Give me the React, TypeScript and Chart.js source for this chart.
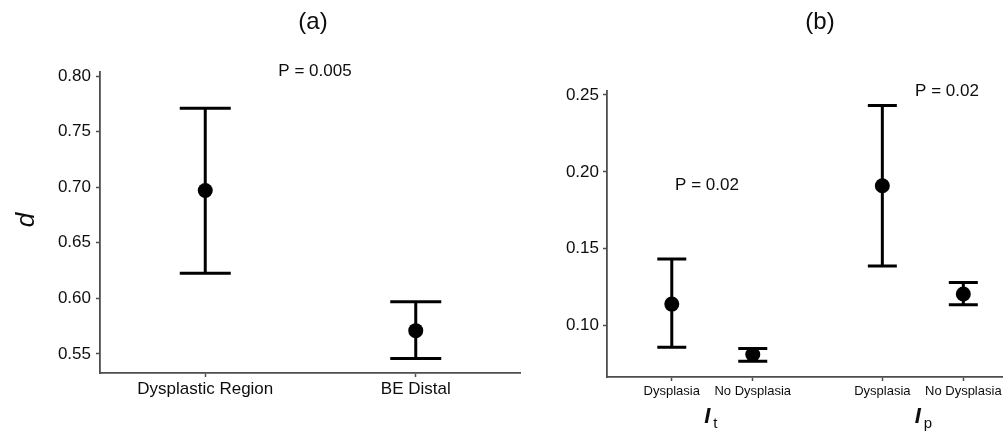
import React, { useEffect, useRef } from "react";
import { Chart, registerables } from "chart.js";

Chart.register(...registerables);

// ---------- Data: panel (a) ----------
const categoriesA = ["Dysplastic Region", "BE Distal"];
const meanA = [0.697, 0.571];
const upperA = [0.771, 0.597];
const lowerA = [0.6225, 0.546];
const yTicksA = [0.55, 0.6, 0.65, 0.7, 0.75, 0.8];
const pTextA = "P = 0.005";

// ---------- Data: panel (b) ----------
const groupSubsB = ["t", "p"]; // I_t and I_p
const conditionsB = ["Dysplasia", "No Dysplasia", "Dysplasia", "No Dysplasia"];
const meanB = [0.114, 0.0812, 0.191, 0.1206];
const upperB = [0.1433, 0.0851, 0.2431, 0.1281];
const lowerB = [0.0859, 0.0768, 0.1388, 0.1136];
const yTicksB = [0.1, 0.15, 0.2, 0.25];
const pTextsB = ["P = 0.02", "P = 0.02"];

// ---------- Styling ----------
const FONT = "Arial, 'Liberation Sans', sans-serif";
const TEXT = "#0d0d0d";
const AXIS = "#4d4d4d";
const GROUP_STEP = 2.6; // dodge layout: group spacing in x units
const posB = conditionsB.map((_, i) => Math.floor(i / 2) * GROUP_STEP + (i % 2) + 1);

const errorBarPlugin = {
  id: "errorBars",
  beforeDatasetsDraw(chart: any, _args: any, opts: any) {
    const { ctx } = chart;
    const y = chart.scales.y;
    const meta = chart.getDatasetMeta(0);
    ctx.save();
    ctx.strokeStyle = "#000";
    ctx.lineWidth = opts.lineWidth || 3;
    ctx.lineCap = "butt";
    meta.data.forEach((el: any, i: number) => {
      const px = el.x;
      const yl = y.getPixelForValue(opts.lower[i]);
      const yh = y.getPixelForValue(opts.upper[i]);
      const hw = opts.capHalf;
      ctx.beginPath();
      ctx.moveTo(px, yl);
      ctx.lineTo(px, yh);
      ctx.moveTo(px - hw, yl);
      ctx.lineTo(px + hw, yl);
      ctx.moveTo(px - hw, yh);
      ctx.lineTo(px + hw, yh);
      ctx.stroke();
    });
    ctx.restore();
  },
};

const textPlugin = {
  id: "annotText",
  afterDraw(chart: any, _args: any, opts: any) {
    const { ctx } = chart;
    ctx.save();
    ctx.fillStyle = TEXT;
    (opts.items || []).forEach((it: any) => {
      const pos = typeof it.pos === "function" ? it.pos(chart) : it.pos;
      ctx.save();
      ctx.font = it.font;
      ctx.textAlign = it.align || "center";
      ctx.textBaseline = it.baseline || "middle";
      ctx.translate(pos[0], pos[1]);
      if (it.rotate) ctx.rotate(it.rotate);
      ctx.fillText(it.text, 0, 0);
      ctx.restore();
    });
    ctx.restore();
  },
};

function baseScaleStyle() {
  return {
    grid: {
      display: true,
      drawOnChartArea: false,
      drawTicks: true,
      tickLength: 4,
      tickWidth: 1.5,
      color: AXIS,
      offset: false,
    },
    border: { display: true, color: AXIS, width: 1.8 },
  };
}

export default function App() {
  const refA = useRef<HTMLCanvasElement>(null);
  const refB = useRef<HTMLCanvasElement>(null);

  useEffect(() => {
    const chartA = new Chart(refA.current as HTMLCanvasElement, {
      type: "line",
      data: {
        labels: categoriesA,
        datasets: [
          {
            data: meanA,
            showLine: false,
            pointRadius: 7.5,
            pointBackgroundColor: "#000",
            pointBorderColor: "#000",
            pointBorderWidth: 0,
          },
        ],
      },
      options: {
        responsive: false,
        animation: false,
        events: [],
        layout: { autoPadding: false, padding: { left: 0, right: 0, top: 72, bottom: 0 } },
        plugins: {
          legend: { display: false },
          tooltip: { enabled: false },
          errorBars: { lower: lowerA, upper: upperA, capHalf: 25.5, lineWidth: 3 },
          annotText: {
            items: [
              { text: "(a)", font: `24px ${FONT}`, pos: [313, 22] },
              { text: pTextA, font: `17px ${FONT}`, pos: [315, 71] },
              { text: "d", font: `italic 26px ${FONT}`, pos: [27, 220], rotate: -Math.PI / 2 },
            ],
          },
        },
        scales: {
          x: {
            type: "category",
            offset: true,
            ...baseScaleStyle(),
            ticks: {
              color: TEXT,
              font: { family: FONT, size: 17 },
              padding: 2,
              maxRotation: 0,
              autoSkip: false,
            },
            afterFit: (s: any) => {
              s.height = 61;
              s.paddingLeft = 0;
              s.paddingRight = 0;
            },
          },
          y: {
            type: "linear",
            min: 0.5329,
            max: 0.8036,
            ...baseScaleStyle(),
            afterBuildTicks: (s: any) => {
              s.ticks = yTicksA.map((v) => ({ value: v }));
            },
            ticks: {
              color: TEXT,
              font: { family: FONT, size: 17 },
              padding: 5,
              callback: (v: any) => Number(v).toFixed(2),
            },
            afterFit: (s: any) => {
              s.width = 100;
              s.paddingTop = 0;
              s.paddingBottom = 0;
            },
          },
        },
      } as any,
      plugins: [errorBarPlugin, textPlugin],
    });

    const groupCenter = (chart: any, g: number) =>
      chart.scales.x.getPixelForValue((posB[g * 2] + posB[g * 2 + 1]) / 2);

    const chartB = new Chart(refB.current as HTMLCanvasElement, {
      type: "scatter",
      data: {
        datasets: [
          {
            data: meanB.map((m, i) => ({ x: posB[i], y: m })),
            showLine: false,
            pointRadius: 7.5,
            pointBackgroundColor: "#000",
            pointBorderColor: "#000",
            pointBorderWidth: 0,
          },
        ],
      },
      options: {
        responsive: false,
        animation: false,
        events: [],
        layout: { autoPadding: false, padding: { left: 0, right: 0, top: 91, bottom: 0 } },
        plugins: {
          legend: { display: false },
          tooltip: { enabled: false },
          errorBars: { lower: lowerB, upper: upperB, capHalf: 14.5, lineWidth: 3 },
          annotText: {
            items: [
              { text: "(b)", font: `24px ${FONT}`, pos: [299, 22] },
              { text: pTextsB[0], font: `17px ${FONT}`, pos: [186, 185] },
              { text: pTextsB[1], font: `17px ${FONT}`, pos: [426, 91] },
              ...groupSubsB.flatMap((sub, g) => [
                {
                  text: "I",
                  font: `italic bold 22px ${FONT}`,
                  baseline: "alphabetic",
                  pos: (c: any) => [groupCenter(c, g) - 5, 423],
                },
                {
                  text: sub,
                  font: `15px ${FONT}`,
                  align: "left",
                  baseline: "alphabetic",
                  pos: (c: any) => [groupCenter(c, g) + 1, 428],
                },
              ]),
            ],
          },
        },
        scales: {
          x: {
            type: "linear",
            min: 0.2,
            max: 5.09,
            ...baseScaleStyle(),
            afterBuildTicks: (s: any) => {
              s.ticks = posB.map((v) => ({ value: v }));
            },
            ticks: {
              color: TEXT,
              font: { family: FONT, size: 13 },
              padding: 3,
              maxRotation: 0,
              autoSkip: false,
              callback: (_v: any, i: number) => conditionsB[i],
            },
            afterFit: (s: any) => {
              s.height = 57;
              s.paddingLeft = 0;
              s.paddingRight = 0;
            },
          },
          y: {
            type: "linear",
            min: 0.0666,
            max: 0.2526,
            ...baseScaleStyle(),
            afterBuildTicks: (s: any) => {
              s.ticks = yTicksB.map((v) => ({ value: v }));
            },
            ticks: {
              color: TEXT,
              font: { family: FONT, size: 17 },
              padding: 4,
              callback: (v: any) => Number(v).toFixed(2),
            },
            afterFit: (s: any) => {
              s.width = 86;
              s.paddingTop = 0;
              s.paddingBottom = 0;
            },
          },
        },
      } as any,
      plugins: [errorBarPlugin, textPlugin],
    });

    return () => {
      chartA.destroy();
      chartB.destroy();
    };
  }, []);

  return (
    <div
      style={{
        position: "absolute",
        left: 0,
        top: 0,
        width: 1003,
        height: 434,
        background: "#fff",
        overflow: "hidden",
      }}
    >
      <canvas
        ref={refA}
        width={521}
        height={434}
        style={{ position: "absolute", left: 0, top: 0, width: 521, height: 434 }}
      />
      <canvas
        ref={refB}
        width={482}
        height={434}
        style={{ position: "absolute", left: 521, top: 0, width: 482, height: 434 }}
      />
    </div>
  );
}
